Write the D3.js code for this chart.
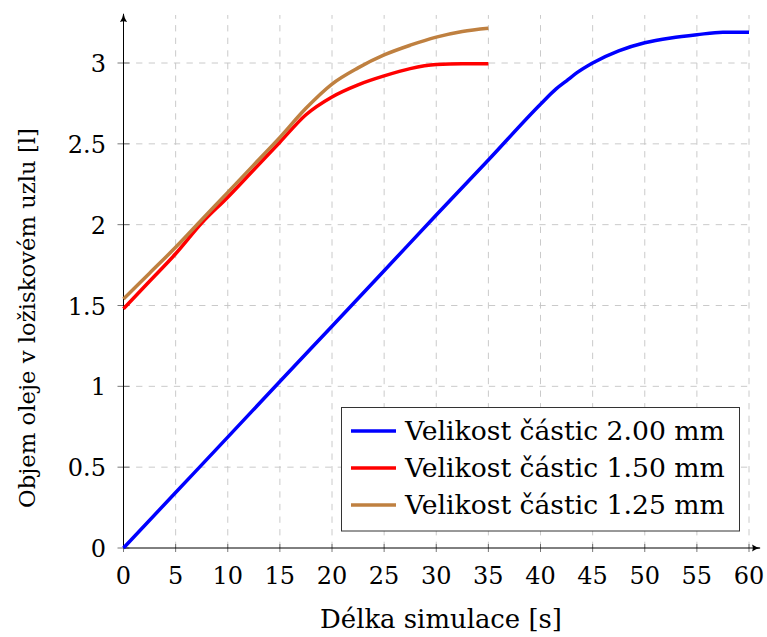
<!DOCTYPE html>
<html>
<head>
<meta charset="utf-8">
<script src="https://cdn.jsdelivr.net/npm/d3@7"></script>
<style>
  html, body { margin: 0; padding: 0; background: #fff; }
  svg { display: block; }
</style>
</head>
<body>
<svg id="chart" width="767" height="637"></svg>
<script>
// ---- data ----
const xTicks = [0, 5, 10, 15, 20, 25, 30, 35, 40, 45, 50, 55, 60];
const yTicks = [0, 0.5, 1, 1.5, 2, 2.5, 3];
const yTickLabels = ["0", "0.5", "1", "1.5", "2", "2.5", "3"];

const blueX = [0, 5, 10, 15, 20, 25, 30, 35, 40, 41.5, 42.5, 43.5, 45, 47.5, 50, 52.5, 55, 57.5, 60];
const blueY = [0, 0.343, 0.686, 1.03, 1.372, 1.715, 2.06, 2.40, 2.745, 2.84, 2.89, 2.94, 3.0, 3.075, 3.125, 3.155, 3.175, 3.19, 3.19];

const redX = [0, 2.5, 5, 7.5, 10, 12.5, 15, 17.5, 20, 22.5, 25, 27.5, 30, 32.5, 35];
const redY = [1.48, 1.65, 1.82, 2.01, 2.17, 2.34, 2.51, 2.68, 2.79, 2.865, 2.92, 2.965, 2.99, 2.995, 2.995];

const brownX = [0, 2.5, 5, 7.5, 10, 12.5, 15, 17.5, 20, 22.5, 25, 27.5, 30, 32.5, 35];
const brownY = [1.54, 1.70, 1.86, 2.03, 2.20, 2.37, 2.54, 2.72, 2.87, 2.97, 3.05, 3.11, 3.16, 3.195, 3.215];

const seriesNames = ["Velikost částic 2.00 mm", "Velikost částic 1.50 mm", "Velikost částic 1.25 mm"];
const seriesColors = ["#0000ff", "#ff0000", "#bf8040"];
const xLabel = "Délka simulace [s]";
const yLabel = "Objem oleje v ložiskovém uzlu [l]";

// ---- layout ----
const FONT = "DejaVu Serif";
const svg = d3.select("#chart");
const x0 = 123.5, x1 = 749, yB = 548, yT = 63;
const x = d3.scaleLinear().domain([0, 60]).range([x0, x1]);
const y = d3.scaleLinear().domain([0, 3]).range([yB, yT]);

const gridColor = "#c4c4c4";

// grid
const gGrid = svg.append("g");
gGrid.selectAll("line.v").data(xTicks.filter(d => d > 0)).enter().append("line")
  .attr("x1", d => x(d)).attr("x2", d => x(d))
  .attr("y1", yB).attr("y2", 15)
  .attr("stroke", gridColor).attr("stroke-width", 0.9).attr("stroke-dasharray", "6.3,6.3");
gGrid.selectAll("line.h").data(yTicks.filter(d => d > 0)).enter().append("line")
  .attr("x1", x0).attr("x2", 753)
  .attr("y1", d => y(d)).attr("y2", d => y(d))
  .attr("stroke", gridColor).attr("stroke-width", 0.9).attr("stroke-dasharray", "6.3,6.3");

// tick marks
svg.append("g").selectAll("line").data(xTicks).enter().append("line")
  .attr("x1", d => x(d)).attr("x2", d => x(d)).attr("y1", yB - 4).attr("y2", yB + 4)
  .attr("stroke", "#555").attr("stroke-width", 0.8);
svg.append("g").selectAll("line").data(yTicks).enter().append("line")
  .attr("x1", x0 - 6).attr("x2", x0 + 6).attr("y1", d => y(d)).attr("y2", d => y(d))
  .attr("stroke", "#555").attr("stroke-width", 0.8);

function fitText(t, base, target) {
  t.attr("font-size", base);
  const w = t.node().getComputedTextLength();
  t.attr("font-size", (base * target / w).toFixed(2));
}

// tick labels
svg.append("g").selectAll("text").data(xTicks).enter().append("text")
  .attr("x", d => x(d)).attr("y", 584).attr("text-anchor", "middle")
  .attr("font-family", FONT).attr("font-size", 24).attr("fill", "#000")
  .text(d => d3.format("d")(d));
svg.append("g").selectAll("text").data(yTicks).enter().append("text")
  .attr("x", 106).attr("y", d => y(d) + 9).attr("text-anchor", "end")
  .attr("font-family", FONT).attr("font-size", 24).attr("fill", "#000")
  .text((d, i) => yTickLabels[i]);

// axes lines with arrows
const defs = svg.append("defs");
defs.append("marker").attr("id", "arr").attr("viewBox", "0 0 10 10").attr("refX", 9).attr("refY", 5)
  .attr("markerWidth", 9).attr("markerHeight", 9).attr("markerUnits", "userSpaceOnUse").attr("orient", "auto")
  .append("path").attr("d", "M0,1 Q4,4 10,5 Q4,6 0,9 Q2,5 0,1Z").attr("fill", "#000");
svg.append("line").attr("x1", x0).attr("x2", 760).attr("y1", yB).attr("y2", yB)
  .attr("stroke", "#000").attr("stroke-width", 1).attr("marker-end", "url(#arr)");
svg.append("line").attr("x1", x0).attr("x2", x0).attr("y1", yB).attr("y2", 14)
  .attr("stroke", "#000").attr("stroke-width", 1).attr("marker-end", "url(#arr)");

// series
const line = d3.line().x(d => x(d[0])).y(d => y(d[1])).curve(d3.curveMonotoneX);
const series = [
  d3.zip(blueX, blueY),
  d3.zip(redX, redY),
  d3.zip(brownX, brownY)
];
[0, 1, 2].forEach(i => {
  svg.append("path").datum(series[i]).attr("d", line)
    .attr("fill", "none").attr("stroke", seriesColors[i]).attr("stroke-width", 3.5)
    .attr("stroke-linejoin", "round");
});

// legend
const lg = svg.append("g");
lg.append("rect").attr("x", 341.5).attr("y", 407.5).attr("width", 398).attr("height", 123.5)
  .attr("fill", "#fff").attr("stroke", "#333").attr("stroke-width", 1);
seriesNames.forEach((name, i) => {
  const cy = 431 + i * 37;
  lg.append("line").attr("x1", 351).attr("x2", 396).attr("y1", cy).attr("y2", cy)
    .attr("stroke", seriesColors[i]).attr("stroke-width", 3.5);
  const t = lg.append("text").attr("x", 405).attr("y", cy + 8.5).attr("font-family", FONT).attr("fill", "#000").text(name);
  fitText(t, 24, 320);
});

// axis labels
const xl = svg.append("text").attr("x", 441).attr("y", 628).attr("text-anchor", "middle").attr("font-family", FONT).attr("fill", "#000").text(xLabel);
fitText(xl, 24, 242);
const yl = svg.append("text").attr("transform", "translate(35,318) rotate(-90)").attr("text-anchor", "middle").attr("font-family", FONT).attr("fill", "#000").text(yLabel);
fitText(yl, 24, 380);
</script>
</body>
</html>
